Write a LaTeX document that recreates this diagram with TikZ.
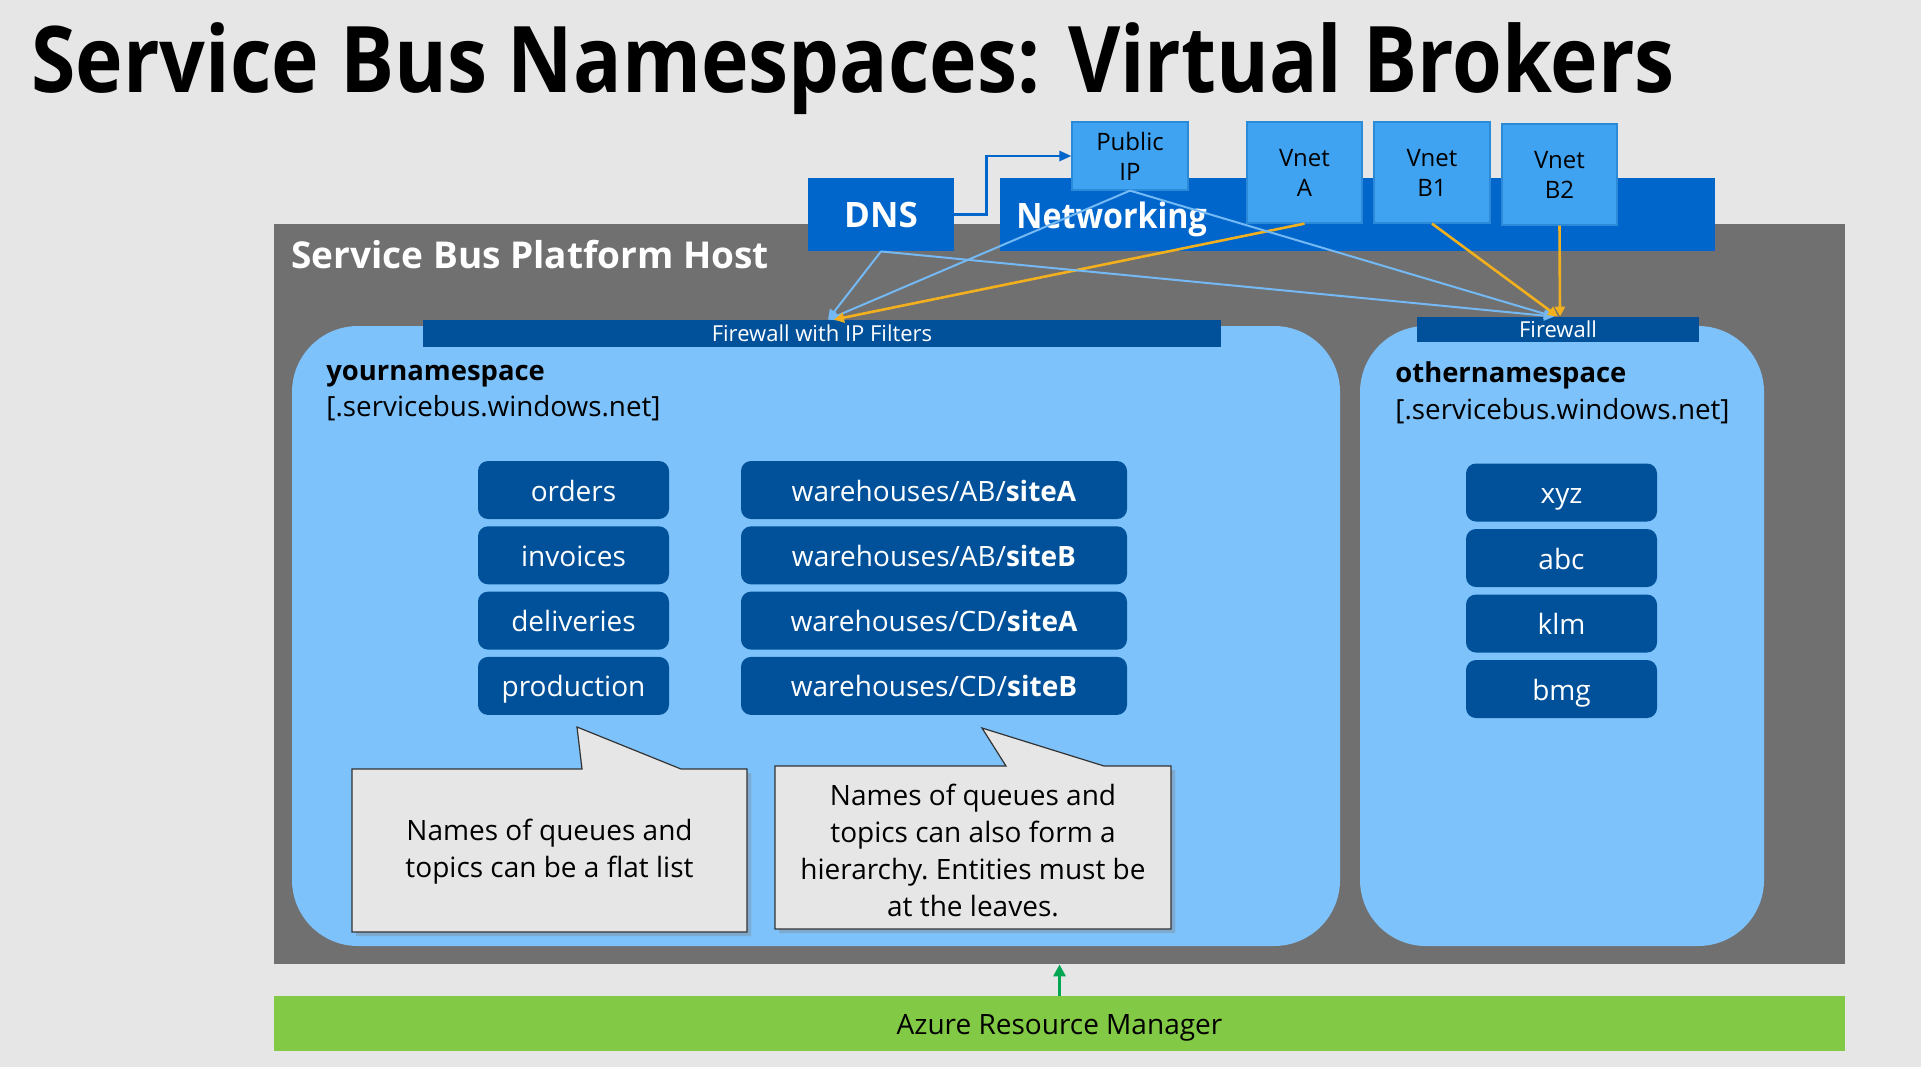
\documentclass[tikz,border=0pt]{standalone}
\usepackage{fontspec}
\setmainfont{Open Sans}
\usetikzlibrary{arrows.meta,shadows}
\definecolor{slidebg}{HTML}{E6E6E6}
\definecolor{hostgray}{HTML}{707070}
\definecolor{netblue}{HTML}{0066CC}
\definecolor{vnetblue}{HTML}{3FA3F2}
\definecolor{vnetedge}{HTML}{2A8AD8}
\definecolor{fwblue}{HTML}{00519A}
\definecolor{nsblue}{HTML}{7DC2FA}
\definecolor{linkblue}{HTML}{74B9F4}
\definecolor{linkyellow}{HTML}{F2B01E}
\definecolor{armgreen}{HTML}{82C946}
\definecolor{armdark}{HTML}{00A651}

\begin{document}
\begin{tikzpicture}[x=0.5pt,y=-0.5pt,
  boxsize/.style 2 args={minimum width=#1,minimum height=#2},
  title/.style={anchor=base west,inner sep=0pt,font=\bfseries\fontsize{46}{50}\selectfont\addfontfeatures{FakeStretch=0.875}},
  hostbox/.style={fill=hostgray,inner sep=0pt},
  hostlbl/.style={anchor=base west,inner sep=0pt,text=white,font=\bfseries\fontsize{18.5}{22}\selectfont},
  netbox/.style={fill=netblue,inner sep=0pt,text=white,font=\bfseries\fontsize{17.5}{21}\selectfont},
  netlbl/.style={anchor=base west,inner sep=0pt,text=white,font=\bfseries\fontsize{17.5}{21}\selectfont\addfontfeatures{FakeStretch=0.92}},
  vnet/.style={fill=vnetblue,draw=vnetedge,line width=0.6pt,inner sep=0pt,align=center,font=\fontsize{12}{15}\selectfont},
  fwbar/.style={fill=fwblue,inner sep=0pt,text=white,text height=8pt,text depth=0pt,font=\fontsize{11}{13}\selectfont},
  nsbox/.style={fill=nsblue,rounded corners=33pt,inner sep=0pt},
  nstitle/.style={anchor=base west,inner sep=0pt,font=\bfseries\fontsize{13.7}{16}\selectfont},
  nsdomain/.style={anchor=base west,inner sep=0pt,font=\fontsize{13.9}{16}\selectfont},
  entity/.style={fill=fwblue,text=white,rounded corners=5pt,inner sep=0pt,minimum height=29pt,
    text height=11pt,text depth=0pt,font=\fontsize{14}{17}\selectfont},
  note/.style={fill=slidebg,draw=black!80,line width=0.6pt,drop shadow={shadow xshift=2pt,shadow yshift=-2pt,opacity=0.35}},
  notetext/.style={align=center,inner sep=0pt,font=\fontsize{14}{18.5}\selectfont},
  arm/.style={fill=armgreen,inner sep=0pt,text height=11pt,text depth=0pt,font=\fontsize{14}{17}\selectfont},
  linkb/.style={draw=linkblue,line width=1pt,-{Triangle[length=5pt,width=5pt]}},
  linky/.style={draw=linkyellow,line width=1.3pt,-{Triangle[length=5pt,width=5pt]}},
  dnslink/.style={draw=netblue,line width=1.3pt,-{Triangle[length=6pt,width=5pt]}},
  armlink/.style={draw=armdark,line width=1.8pt,-{Triangle[length=6pt,width=6pt]}}]

  \path[use as bounding box,fill=slidebg] (0,0) rectangle (1921,1067);
  \node[title] (title) at (31,92) {Service Bus Namespaces: Virtual Brokers};

  % Platform host
  \node[hostbox,boxsize={785.5pt}{370pt}] (host) at (1059.5,594) {};
  \node[hostlbl] (hostlbl) at (291,268) {Service Bus Platform Host};

  % DNS and networking
  \node[netbox,boxsize={73pt}{36.5pt}] (dns) at (881,214.5) {DNS};
  \node[netbox,boxsize={357.5pt}{36.5pt}] (net) at (1357.5,214.5) {};
  \node[netlbl] (netlbl) at (1016,228) {Networking};
  \node[vnet,boxsize={58pt}{34pt}] (pip) at (1130,156) {Public\\IP};
  \node[vnet,boxsize={57.5pt}{50.5pt}] (vneta) at (1304.5,172.5) {Vnet\\A};
  \node[vnet,boxsize={58pt}{50.5pt}] (vnetb1) at (1432,172.5) {Vnet\\B1};
  \node[vnet,boxsize={57.5pt}{50.5pt}] (vnetb2) at (1559.5,174.5) {Vnet\\B2};

  % Namespaces
  \node[nsbox,boxsize={524pt}{310pt}] (yourns) at (816,636) {};
  \node[nsbox,boxsize={202pt}{310pt}] (otherns) at (1562,636) {};
  \node[fwbar,boxsize={399pt}{13.5pt}] (fwip) at (822,333.5) {Firewall with IP Filters};
  \node[fwbar,boxsize={141pt}{12.5pt}] (fw) at (1558,329.5) {Firewall};
  \node[nstitle] (yourname) at (326,380) {yournamespace};
  \node[nsdomain] (yourdom) at (326,416) {[.servicebus.windows.net]};
  \node[nstitle] (othername) at (1395,382) {othernamespace};
  \node[nsdomain] (otherdom) at (1395,419) {[.servicebus.windows.net]};

  % Entities
  \foreach \lbl [count=\i] in {orders,invoices,deliveries,production}
    \node[entity,minimum width=95.5pt] (q\i) at (573.5,{490+65.3*(\i-1)}) {\lbl};
  \foreach \grp/\site [count=\i] in {AB/siteA,AB/siteB,CD/siteA,CD/siteB}
    \node[entity,minimum width=193pt] (w\i) at (934,{490+65.3*(\i-1)}) {warehouses/\grp/\textbf{\site}};
  \foreach \lbl [count=\i] in {xyz,abc,klm,bmg}
    \node[entity,minimum width=95.5pt] (o\i) at (1561.5,{492.5+65.5*(\i-1)}) {\lbl};

  % Callouts
  \draw[note] (352,769) -- (582,769) -- (577,727) -- (681,769) -- (747,769)
    -- (747,932) -- (352,932) -- cycle;
  \node[notetext] (note1) at (549.5,852) {Names of queues and\\topics can be a flat list};
  \draw[note] (775,766) -- (1006,766) -- (982,728) -- (1104,766) -- (1171,766)
    -- (1171,929) -- (775,929) -- cycle;
  \node[notetext] (note2) at (973,850) {Names of queues and\\topics can also form a\\hierarchy.\ Entities must be\\at the leaves.};

  % Resource manager
  \node[arm,boxsize={785.5pt}{27.5pt}] (arm) at (1059.5,1023.5) {Azure Resource Manager};
  \draw[armlink] (arm.north) -- (arm.north |- host.south);

  % Links
  \draw[dnslink] (dns.east) -- ++(32,0) |- (pip.west);
  \draw[linkb] (dns.south) -- ([xshift=3pt]fwip.north);
  \draw[linkb] (pip.south) -- ([xshift=3pt]fwip.north);
  \draw[linky] (vneta.south) -- ([xshift=6pt]fwip.north);
  \draw[linkb] (dns.south) -- ([xshift=-2pt]fw.north);
  \draw[linkb] (pip.south) -- ([xshift=-2pt]fw.north);
  \draw[linky] (vnetb1.south) -- (fw.north);
  \draw[linky] (vnetb2.south) -- ([xshift=1pt]fw.north);
\end{tikzpicture}
\end{document}
